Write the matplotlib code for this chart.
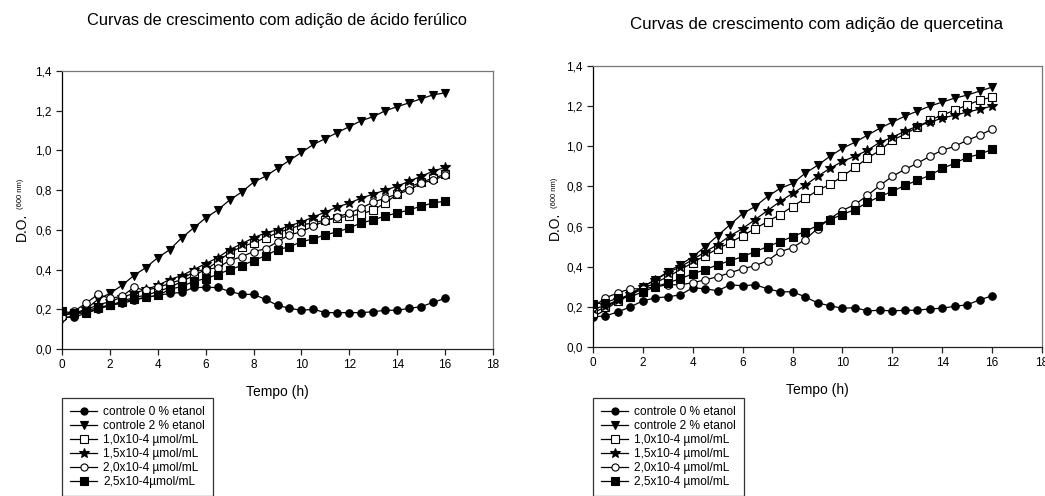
import matplotlib.pyplot as plt
from matplotlib.ticker import FuncFormatter

plt.rcParams['font.family'] = ['Liberation Sans', 'DejaVu Sans']

# tempo (h)
tempo = [0, 0.5, 1, 1.5, 2, 2.5, 3, 3.5, 4, 4.5, 5, 5.5, 6, 6.5, 7, 7.5, 8,
         8.5, 9, 9.5, 10, 10.5, 11, 11.5, 12, 12.5, 13, 13.5, 14, 14.5, 15, 15.5, 16]

# acido ferulico
fer_c0 = [0.16, 0.16, 0.18, 0.20, 0.22, 0.23, 0.245, 0.26, 0.27, 0.28, 0.285, 0.31, 0.31, 0.31, 0.29, 0.275, 0.275,
          0.25, 0.22, 0.205, 0.195, 0.20, 0.183, 0.183, 0.183, 0.183, 0.188, 0.195, 0.195, 0.205, 0.213, 0.235, 0.255]
fer_c2 = [0.15, 0.17, 0.20, 0.25, 0.28, 0.32, 0.37, 0.41, 0.46, 0.50, 0.56, 0.61, 0.66, 0.70, 0.75, 0.79, 0.84,
          0.87, 0.91, 0.95, 0.99, 1.03, 1.06, 1.09, 1.12, 1.15, 1.17, 1.20, 1.22, 1.24, 1.26, 1.28, 1.29]
fer_10 = [0.17, 0.18, 0.19, 0.21, 0.22, 0.24, 0.26, 0.27, 0.29, 0.31, 0.34, 0.37, 0.40, 0.44, 0.485, 0.515, 0.535,
          0.56, 0.585, 0.605, 0.625, 0.635, 0.65, 0.66, 0.67, 0.68, 0.70, 0.735, 0.78, 0.815, 0.84, 0.86, 0.88]
fer_15 = [0.17, 0.18, 0.20, 0.22, 0.24, 0.26, 0.28, 0.30, 0.32, 0.35, 0.37, 0.40, 0.43, 0.46, 0.50, 0.53, 0.56,
          0.585, 0.60, 0.62, 0.64, 0.665, 0.69, 0.715, 0.735, 0.76, 0.78, 0.80, 0.82, 0.845, 0.87, 0.895, 0.915]
fer_20 = [0.16, 0.19, 0.23, 0.275, 0.255, 0.265, 0.31, 0.295, 0.31, 0.33, 0.35, 0.39, 0.40, 0.41, 0.445, 0.465, 0.49,
          0.505, 0.54, 0.575, 0.59, 0.62, 0.645, 0.665, 0.685, 0.71, 0.74, 0.76, 0.78, 0.80, 0.835, 0.85, 0.875]
fer_25 = [0.19, 0.18, 0.18, 0.205, 0.22, 0.235, 0.25, 0.26, 0.27, 0.30, 0.315, 0.34, 0.355, 0.375, 0.40, 0.42, 0.445,
          0.47, 0.50, 0.515, 0.54, 0.555, 0.575, 0.59, 0.61, 0.635, 0.65, 0.67, 0.685, 0.70, 0.72, 0.735, 0.745]

# quercetina
que_c0 = [0.15, 0.155, 0.175, 0.20, 0.23, 0.245, 0.25, 0.26, 0.295, 0.29, 0.28, 0.31, 0.305, 0.31, 0.29, 0.275, 0.275,
          0.25, 0.22, 0.205, 0.193, 0.196, 0.18, 0.183, 0.18, 0.183, 0.183, 0.19, 0.193, 0.203, 0.21, 0.235, 0.255]
que_c2 = [0.15, 0.185, 0.23, 0.26, 0.30, 0.335, 0.375, 0.41, 0.45, 0.50, 0.555, 0.61, 0.665, 0.70, 0.75, 0.79, 0.815,
          0.865, 0.905, 0.95, 0.99, 1.02, 1.055, 1.09, 1.12, 1.15, 1.175, 1.20, 1.22, 1.24, 1.255, 1.275, 1.295]
que_10 = [0.17, 0.20, 0.23, 0.26, 0.29, 0.32, 0.35, 0.385, 0.42, 0.455, 0.49, 0.52, 0.555, 0.59, 0.625, 0.66, 0.70,
          0.74, 0.78, 0.81, 0.85, 0.895, 0.94, 0.98, 1.03, 1.06, 1.095, 1.13, 1.155, 1.18, 1.205, 1.23, 1.245]
que_15 = [0.19, 0.205, 0.235, 0.265, 0.30, 0.335, 0.37, 0.40, 0.435, 0.475, 0.51, 0.555, 0.59, 0.635, 0.68, 0.725, 0.765,
          0.805, 0.85, 0.89, 0.925, 0.95, 0.98, 1.02, 1.045, 1.075, 1.10, 1.12, 1.14, 1.155, 1.17, 1.185, 1.20]
que_20 = [0.20, 0.245, 0.27, 0.29, 0.29, 0.30, 0.31, 0.31, 0.32, 0.335, 0.35, 0.37, 0.39, 0.405, 0.43, 0.475, 0.495,
          0.535, 0.59, 0.64, 0.68, 0.71, 0.755, 0.805, 0.85, 0.885, 0.915, 0.95, 0.98, 1.0, 1.03, 1.055, 1.085]
que_25 = [0.215, 0.22, 0.245, 0.25, 0.275, 0.30, 0.32, 0.34, 0.365, 0.385, 0.41, 0.43, 0.45, 0.475, 0.50, 0.525, 0.55,
          0.575, 0.605, 0.635, 0.66, 0.685, 0.72, 0.75, 0.775, 0.805, 0.83, 0.855, 0.89, 0.915, 0.945, 0.96, 0.985]

fer_labels = ['controle 0 % etanol', 'controle 2 % etanol', '1,0x10-4 µmol/mL',
              '1,5x10-4 µmol/mL', '2,0x10-4 µmol/mL', '2,5x10-4µmol/mL']
que_labels = ['controle 0 % etanol', 'controle 2 % etanol', '1,0x10-4 µmol/mL',
              '1,5x10-4 µmol/mL', '2,0x10-4 µmol/mL', '2,5x10-4 µmol/mL']

markers = ['o', 'v', 's', '*', 'o', 's']
faces = ['black', 'black', 'white', 'black', 'white', 'black']
msizes = [5.4, 6.2, 5.4, 7.8, 5.4, 5.4]

fig = plt.figure(figsize=(10.45, 4.96), dpi=100)
ax1 = fig.add_axes([62/1045, 1 - 349/496, 431/1045, 278/496])
ax2 = fig.add_axes([593/1045, 1 - 347/496, 449/1045, 281/496])

comma = FuncFormatter(lambda v, p: ('%.1f' % v).replace('.', ','))
comma_x = FuncFormatter(lambda v, p: '%d' % v)

def draw(ax, series, labels, legx):
    for s, lab, m, fc, ms in zip(series, labels, markers, faces, msizes):
        ax.plot(tempo, s, color='black', lw=0.9, marker=m, mfc=fc, mec='black',
                ms=ms, mew=0.8, label=lab)
    ax.set_xlim(0, 18)
    ax.set_ylim(0, 1.4)
    ax.set_xticks(range(0, 19, 2))
    ax.set_yticks([0, 0.2, 0.4, 0.6, 0.8, 1.0, 1.2, 1.4])
    ax.yaxis.set_major_formatter(comma)
    ax.xaxis.set_major_formatter(comma_x)
    ax.tick_params(direction='out', length=4, width=0.9, labelsize=8.5, pad=3.5, color='#222222')
    ax.spines['left'].set_color('black')
    ax.spines['bottom'].set_color('#222222')
    ax.spines['top'].set_color('#777777')
    ax.spines['right'].set_color('#777777')
    for sp in ax.spines.values():
        sp.set_linewidth(0.9)
    ax.set_xlabel('Tempo (h)', fontsize=10, labelpad=10)
    leg = ax.legend(loc='upper left', bbox_to_anchor=(legx / 1045, 1 - 398 / 496),
                    bbox_transform=fig.transFigure, borderaxespad=0, frameon=True,
                    fancybox=False, fontsize=8.6, handlelength=2.3, handletextpad=0.5,
                    labelspacing=0.17, borderpad=0.65, markerscale=0.95)
    leg.get_frame().set_edgecolor('black')
    leg.get_frame().set_linewidth(0.9)

draw(ax1, [fer_c0, fer_c2, fer_10, fer_15, fer_20, fer_25], fer_labels, 62)
draw(ax2, [que_c0, que_c2, que_10, que_15, que_20, que_25], que_labels, 593)

fig.text(277 / 1045, 1 - 20 / 496, 'Curvas de crescimento com adição de ácido ferúlico',
         ha='center', va='center', fontsize=11.8)
fig.text(817 / 1045, 1 - 25 / 496, 'Curvas de crescimento com adição de quercetina',
         ha='center', va='center', fontsize=12.2)

# rotulo do eixo y com subscrito pequeno
for x0, y0 in [(22, 227), (555, 226)]:
    fig.text(x0 / 1045, 1 - y0 / 496, 'D.O.', rotation=90, ha='center', va='center', fontsize=10)
    fig.text((x0 - 1) / 1045, 1 - (y0 - 33) / 496, '(600 nm)', rotation=90, ha='center',
             va='center', fontsize=5.5)

fig.savefig('out.png', dpi=100)
